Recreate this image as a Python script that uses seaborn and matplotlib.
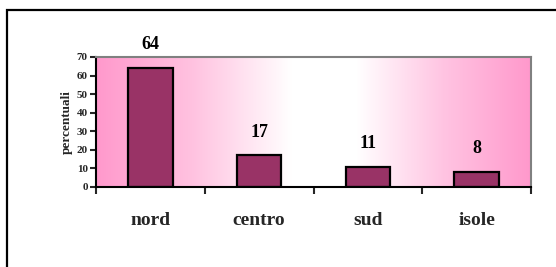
import numpy as np
import matplotlib
matplotlib.use("Agg")
import matplotlib.pyplot as plt
from matplotlib.colors import LinearSegmentedColormap
from matplotlib.patches import Rectangle
import seaborn as sns
import pandas as pd

# data
regioni = ["nord", "centro", "sud", "isole"]
percentuali = [64, 17, 11, 8]
y_ticks = [0, 10, 20, 30, 40, 50, 60, 70]

sns.set_style("white")
plt.rcParams["font.family"] = ["Liberation Serif", "DejaVu Serif"]

fig = plt.figure(figsize=(5.56, 2.67), dpi=100)
ax = fig.add_axes([96 / 556, 80 / 267, 435 / 556, 130 / 267])

# pink-white-pink gradient background of the plot area
cmap = LinearSegmentedColormap.from_list(
    "bg", [(0, "#ff99cc"), (0.22, "#ffc2e0"), (0.45, "#ffffff"), (0.6, "#ffffff"),
           (0.8, "#ffc4e2"), (1, "#ff99cc")])
grad = np.linspace(0, 1, 256).reshape(1, -1)
ax.imshow(grad, cmap=cmap, aspect="auto", extent=(-0.5, 3.5, 0, 70), zorder=0)

df = pd.DataFrame({"regione": regioni, "perc": percentuali})
sns.barplot(data=df, x="regione", y="perc", color="#993366", saturation=1,
            edgecolor="black", linewidth=1.6, width=0.41, ax=ax, zorder=2)

for i, v in enumerate(percentuali):
    ax.text(i, v + 12.5, str(v), ha="center", va="center", fontsize=13,
            fontweight="bold", color="black", clip_on=False)

ax.set_xlim(-0.5, 3.5)
ax.set_ylim(0, 70)
ax.set_yticks(y_ticks)
ax.set_yticklabels([str(t) for t in y_ticks], fontsize=8, fontweight="bold")
ax.tick_params(axis="y", direction="out", length=4, width=1.5, pad=2, left=True)

# ticks at category boundaries, labels at centres
ax.set_xticks(np.arange(-0.5, 4, 1))
ax.set_xticklabels([])
ax.tick_params(axis="x", which="major", direction="out", length=5, width=1.5, bottom=True)
ax.set_xticks(range(len(regioni)), minor=True)
ax.set_xticklabels(regioni, minor=True, fontsize=14, fontweight="bold")
ax.tick_params(axis="x", which="minor", length=0, pad=18)

ax.set_xlabel("")
ax.set_ylabel("percentuali", fontsize=9.5, fontweight="bold", labelpad=3)

for side in ["left", "bottom"]:
    ax.spines[side].set_color("black")
    ax.spines[side].set_linewidth(1.5)
for side in ["top", "right"]:
    ax.spines[side].set_color("#808080")
    ax.spines[side].set_linewidth(1.5)

# outer frame running off the right and bottom edges
fig.patches.append(Rectangle((7 / 556, -0.1), 1.2, (257 / 267) + 0.1,
                             transform=fig.transFigure, fill=False,
                             edgecolor="black", linewidth=1.6))

fig.savefig("out.png", dpi=100)
